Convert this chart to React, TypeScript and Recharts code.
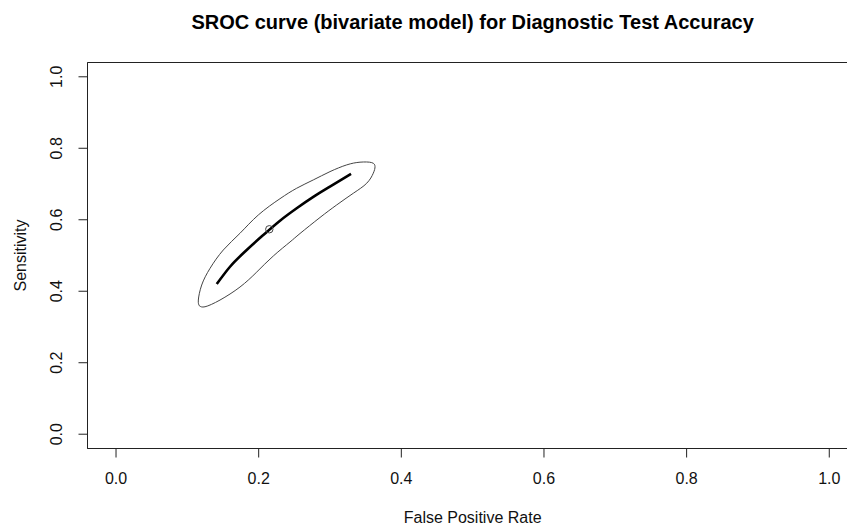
import React from 'react';
import { ComposedChart, Line, XAxis, YAxis, ReferenceArea, Label } from 'recharts';

const TITLE = 'SROC curve (bivariate model) for Diagnostic Test Accuracy';
const X_LABEL = 'False Positive Rate';
const Y_LABEL = 'Sensitivity';
const TICKS = [0, 0.2, 0.4, 0.6, 0.8, 1.0];

// SROC curve (thick line)
const srocFpr = [0.1412, 0.1598, 0.1832, 0.2065, 0.2299, 0.2533, 0.2766, 0.2999, 0.3295];
const srocSens = [0.4202, 0.4686, 0.5154, 0.5574, 0.5975, 0.6322, 0.6640, 0.6927, 0.7283];

// Confidence region (closed contour)
const regionFpr = [
  0.1168, 0.1154, 0.1201, 0.1318, 0.1504, 0.1738, 0.1995, 0.2299, 0.2533, 0.2766, 0.3000,
  0.3234, 0.3421, 0.3585, 0.3631, 0.3607, 0.3515, 0.3327, 0.3094, 0.2860, 0.2580, 0.2439,
  0.2205, 0.1973, 0.1738, 0.1458, 0.1248, 0.1168,
];
const regionSens = [
  0.3594, 0.3754, 0.4174, 0.4641, 0.5154, 0.5622, 0.6134, 0.6590, 0.6882, 0.7115, 0.7347,
  0.7535, 0.7611, 0.7599, 0.7487, 0.7303, 0.7022, 0.6742, 0.6415, 0.6064, 0.5616, 0.5378,
  0.4986, 0.4538, 0.4118, 0.3754, 0.3566, 0.3594,
];

// Summary point
const meanFpr = [0.2149];
const meanSens = [0.5734];

const toPts = (xs: number[], ys: number[]) => xs.map((x, i) => ({ x, y: ys[i] }));
const srocData = toPts(srocFpr, srocSens);
const regionData = toPts(regionFpr, regionSens);
const meanData = toPts(meanFpr, meanSens);

const FONT = '"Liberation Sans", Arial, sans-serif';

const XTick = (props: any) => {
  const { x, y, payload } = props;
  return (
    <text x={x} y={y + 18.5} textAnchor="middle" dominantBaseline="central" fontSize={16} fontFamily={FONT} fill="#111">
      {Number(payload.value).toFixed(1)}
    </text>
  );
};

const YTick = (props: any) => {
  const { x, y, payload } = props;
  const cx = x - 19.5;
  return (
    <text x={cx} y={y} textAnchor="middle" dominantBaseline="central" fontSize={16} fontFamily={FONT} fill="#111" transform={`rotate(-90, ${cx}, ${y})`}>
      {Number(payload.value).toFixed(1)}
    </text>
  );
};

const YTitle = (props: any) => {
  const vb = props.viewBox || {};
  const cx = 20;
  const cy = vb.y + vb.height / 2;
  return (
    <text x={cx} y={cy} textAnchor="middle" dominantBaseline="central" fontSize={16} fontFamily={FONT} fill="#111" transform={`rotate(-90, ${cx}, ${cy})`}>
      {Y_LABEL}
    </text>
  );
};

const XTitle = (props: any) => {
  const vb = props.viewBox || {};
  const cx = vb.x + vb.width / 2;
  return (
    <text x={cx} y={517} textAnchor="middle" dominantBaseline="central" fontSize={16} fontFamily={FONT} fill="#111">
      {X_LABEL}
    </text>
  );
};

export default function App() {
  return (
    <div style={{ position: 'absolute', left: 0, top: 0, width: 847, height: 525, overflow: 'hidden', background: '#fff' }}>
      <div
        style={{
          position: 'absolute',
          left: 472.6,
          top: 12,
          transform: 'translateX(-50%)',
          whiteSpace: 'nowrap',
          fontFamily: FONT,
          fontWeight: 'bold',
          fontSize: 20,
          lineHeight: '21px',
          color: '#000',
        }}
      >
        {TITLE}
      </div>
      <ComposedChart width={880} height={525} margin={{ top: 62.5, right: 22.2, bottom: 16.5, left: 7.5 }}>
        <XAxis
          type="number"
          dataKey="x"
          domain={[-0.04, 1.04]}
          ticks={TICKS}
          allowDataOverflow
          height={60}
          tickSize={9}
          tickMargin={2}
          tick={<XTick />}
          tickLine={{ stroke: '#222', strokeWidth: 1 }}
          axisLine={{ stroke: '#222', strokeWidth: 1 }}
        >
          <Label content={<XTitle />} />
        </XAxis>
        <YAxis
          type="number"
          dataKey="y"
          domain={[-0.04, 1.04]}
          ticks={TICKS}
          allowDataOverflow
          width={80}
          tickSize={9}
          tickMargin={2}
          tick={<YTick />}
          tickLine={{ stroke: '#222', strokeWidth: 1 }}
          axisLine={{ stroke: '#222', strokeWidth: 1 }}
        >
          <Label content={<YTitle />} />
        </YAxis>
        <ReferenceArea x1={-0.04} x2={1.04} y1={-0.04} y2={1.04} fill="none" stroke="#222" strokeWidth={1} />
        <Line data={regionData} dataKey="y" type="natural" stroke="#444" strokeWidth={1} dot={false} activeDot={false} isAnimationActive={false} />
        <Line data={srocData} dataKey="y" type="monotone" stroke="#000" strokeWidth={2.6} dot={false} activeDot={false} isAnimationActive={false} />
        <Line
          data={meanData}
          dataKey="y"
          stroke="none"
          dot={{ r: 3.7, fill: 'none', stroke: '#444', strokeWidth: 1 }}
          activeDot={false}
          isAnimationActive={false}
        />
      </ComposedChart>
    </div>
  );
}
